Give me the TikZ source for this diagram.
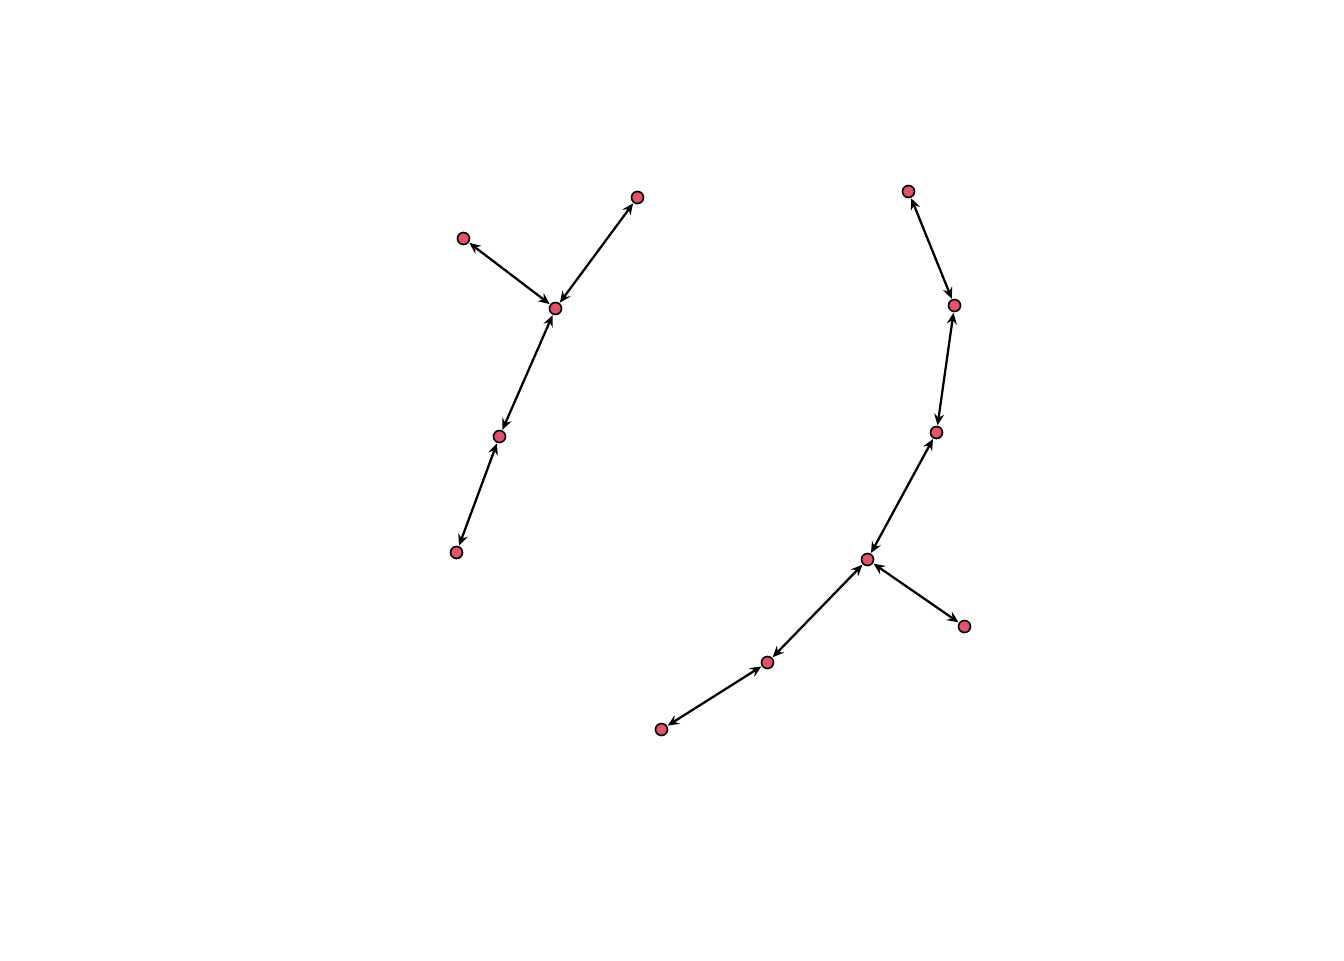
\documentclass[tikz,border=0pt]{standalone}
\usetikzlibrary{arrows.meta}
\definecolor{nodered}{HTML}{DF536B}
\begin{document}
\begin{tikzpicture}[x=0.75pt,y=-0.75pt,
  vtx/.style={circle,draw=black,fill=nodered,line width=1.2pt,minimum size=9pt,inner sep=0pt,outer sep=1pt},
  edge/.style={line width=1.7pt,{Stealth[length=8.5pt,width=7.5pt,inset=3pt]}-{Stealth[length=8.5pt,width=7.5pt,inset=3pt]}}]
\fill[white] (0,0) rectangle (1344,960);
\useasboundingbox (0,0) rectangle (1344,960);
\node[vtx] (A) at (463.5,238.5) {};
\node[vtx] (B) at (637.5,197.5) {};
\node[vtx] (C) at (555.5,308.5) {};
\node[vtx] (D) at (499.5,436.5) {};
\node[vtx] (E) at (456.5,552.5) {};
\node[vtx] (F) at (908.5,191.5) {};
\node[vtx] (G) at (954.5,305.5) {};
\node[vtx] (H) at (936.5,432.5) {};
\node[vtx] (I) at (867.5,559.5) {};
\node[vtx] (J) at (964.5,626.5) {};
\node[vtx] (K) at (767.5,662.5) {};
\node[vtx] (L) at (661.5,729.5) {};
\draw[edge] (C) -- (A);
\draw[edge] (C) -- (B);
\draw[edge] (C) -- (D);
\draw[edge] (D) -- (E);
\draw[edge] (F) -- (G);
\draw[edge] (G) -- (H);
\draw[edge] (H) -- (I);
\draw[edge] (I) -- (J);
\draw[edge] (I) -- (K);
\draw[edge] (K) -- (L);
\end{tikzpicture}
\end{document}
